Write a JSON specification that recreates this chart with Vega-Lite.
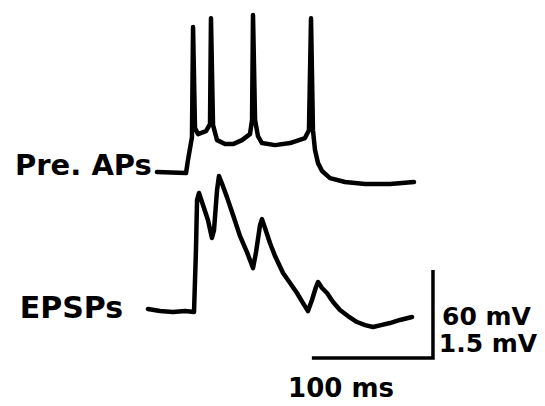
{
  "$schema": "https://vega.github.io/schema/vega-lite/v6.json",
  "width": 545,
  "height": 406,
  "padding": 0,
  "autosize": {"type": "fit", "contains": "padding"},
  "background": "white",
  "config": {"view": {"stroke": null}},
  "datasets": {
    "traces": [
      {"s": "pre", "i": 1, "t": 129.6, "v": 159.6},
      {"s": "pre", "i": 2, "t": 153.6, "v": 158.9},
      {"s": "pre", "i": 3, "t": 155.2, "v": 167.8},
      {"s": "pre", "i": 4, "t": 158.5, "v": 183.5},
      {"s": "pre", "i": 5, "t": 159.4, "v": 258.5},
      {"s": "pre", "i": 6, "t": 161.0, "v": 189.6},
      {"s": "pre", "i": 7, "t": 163.5, "v": 185.5},
      {"s": "pre", "i": 8, "t": 170.1, "v": 187.6},
      {"s": "pre", "i": 9, "t": 173.4, "v": 192.3},
      {"s": "pre", "i": 10, "t": 174.2, "v": 264.6},
      {"s": "pre", "i": 11, "t": 175.9, "v": 191.6},
      {"s": "pre", "i": 12, "t": 179.2, "v": 181.4},
      {"s": "pre", "i": 13, "t": 185.8, "v": 178.7},
      {"s": "pre", "i": 14, "t": 192.4, "v": 178.7},
      {"s": "pre", "i": 15, "t": 199.8, "v": 181.4},
      {"s": "pre", "i": 16, "t": 206.4, "v": 185.5},
      {"s": "pre", "i": 17, "t": 208.1, "v": 195.1},
      {"s": "pre", "i": 18, "t": 208.9, "v": 266.7},
      {"s": "pre", "i": 19, "t": 210.6, "v": 195.1},
      {"s": "pre", "i": 20, "t": 213.0, "v": 184.1},
      {"s": "pre", "i": 21, "t": 216.3, "v": 179.4},
      {"s": "pre", "i": 22, "t": 227.1, "v": 178.0},
      {"s": "pre", "i": 23, "t": 239.5, "v": 179.4},
      {"s": "pre", "i": 24, "t": 251.8, "v": 182.8},
      {"s": "pre", "i": 25, "t": 255.1, "v": 188.2},
      {"s": "pre", "i": 26, "t": 256.8, "v": 264.6},
      {"s": "pre", "i": 27, "t": 258.4, "v": 188.2},
      {"s": "pre", "i": 28, "t": 260.1, "v": 174.6},
      {"s": "pre", "i": 29, "t": 262.6, "v": 165.7},
      {"s": "pre", "i": 30, "t": 265.9, "v": 160.3},
      {"s": "pre", "i": 31, "t": 272.5, "v": 155.5},
      {"s": "pre", "i": 32, "t": 284.9, "v": 152.8},
      {"s": "pre", "i": 33, "t": 301.4, "v": 151.4},
      {"s": "pre", "i": 34, "t": 322.0, "v": 151.4},
      {"s": "pre", "i": 35, "t": 341.8, "v": 152.8},

      {"s": "epsp", "i": 1, "t": 122.2, "v": 66.2},
      {"s": "epsp", "i": 2, "t": 132.1, "v": 64.8},
      {"s": "epsp", "i": 3, "t": 142.8, "v": 64.1},
      {"s": "epsp", "i": 4, "t": 152.8, "v": 64.8},
      {"s": "epsp", "i": 5, "t": 160.2, "v": 64.1},
      {"s": "epsp", "i": 6, "t": 161.8, "v": 106.4},
      {"s": "epsp", "i": 7, "t": 162.7, "v": 140.5},
      {"s": "epsp", "i": 8, "t": 164.3, "v": 145.3},
      {"s": "epsp", "i": 9, "t": 167.6, "v": 137.1},
      {"s": "epsp", "i": 10, "t": 171.7, "v": 126.9},
      {"s": "epsp", "i": 11, "t": 175.0, "v": 114.6},
      {"s": "epsp", "i": 12, "t": 176.7, "v": 120.0},
      {"s": "epsp", "i": 13, "t": 179.2, "v": 147.3},
      {"s": "epsp", "i": 14, "t": 180.8, "v": 156.9},
      {"s": "epsp", "i": 15, "t": 184.1, "v": 150.0},
      {"s": "epsp", "i": 16, "t": 187.4, "v": 142.5},
      {"s": "epsp", "i": 17, "t": 192.4, "v": 130.3},
      {"s": "epsp", "i": 18, "t": 198.2, "v": 115.9},
      {"s": "epsp", "i": 19, "t": 203.9, "v": 105.0},
      {"s": "epsp", "i": 20, "t": 208.9, "v": 94.1},
      {"s": "epsp", "i": 21, "t": 211.4, "v": 105.0},
      {"s": "epsp", "i": 22, "t": 214.7, "v": 123.4},
      {"s": "epsp", "i": 23, "t": 216.3, "v": 127.5},
      {"s": "epsp", "i": 24, "t": 218.8, "v": 121.4},
      {"s": "epsp", "i": 25, "t": 222.9, "v": 111.2},
      {"s": "epsp", "i": 26, "t": 227.1, "v": 102.3},
      {"s": "epsp", "i": 27, "t": 233.7, "v": 90.7},
      {"s": "epsp", "i": 28, "t": 239.5, "v": 83.9},
      {"s": "epsp", "i": 29, "t": 245.2, "v": 77.1},
      {"s": "epsp", "i": 30, "t": 250.2, "v": 70.2},
      {"s": "epsp", "i": 31, "t": 254.3, "v": 64.8},
      {"s": "epsp", "i": 32, "t": 257.6, "v": 72.3},
      {"s": "epsp", "i": 33, "t": 260.9, "v": 81.2},
      {"s": "epsp", "i": 34, "t": 262.6, "v": 84.6},
      {"s": "epsp", "i": 35, "t": 265.9, "v": 80.5},
      {"s": "epsp", "i": 36, "t": 270.0, "v": 77.1},
      {"s": "epsp", "i": 37, "t": 275.0, "v": 70.9},
      {"s": "epsp", "i": 38, "t": 280.7, "v": 65.5},
      {"s": "epsp", "i": 39, "t": 287.3, "v": 61.4},
      {"s": "epsp", "i": 40, "t": 294.8, "v": 57.3},
      {"s": "epsp", "i": 41, "t": 301.4, "v": 55.2},
      {"s": "epsp", "i": 42, "t": 308.0, "v": 53.9},
      {"s": "epsp", "i": 43, "t": 314.6, "v": 55.2},
      {"s": "epsp", "i": 44, "t": 322.0, "v": 56.6},
      {"s": "epsp", "i": 45, "t": 330.3, "v": 58.7},
      {"s": "epsp", "i": 46, "t": 340.2, "v": 60.7}
    ],
    "bars": [
      {"s": "bar", "i": 1, "t": 257.5, "v": 32.7},
      {"s": "bar", "i": 2, "t": 357.5, "v": 32.7},
      {"s": "bar", "i": 3, "t": 357.5, "v": 92.8}
    ],
    "labels": [
      {"label": "Pre. APs", "t": 68.9, "v": 157.5, "size": 29},
      {"label": "EPSPs", "t": 59.0, "v": 60.0, "size": 30},
      {"label": "60 mV", "t": 401.7, "v": 55.0, "size": 25},
      {"label": "1.5 mV", "t": 402.9, "v": 36.8, "size": 25},
      {"label": "100 ms", "t": 281.6, "v": 6.1, "size": 26}
    ]
  },
  "layer": [
    {
      "data": {"name": "traces"},
      "mark": {"type": "line", "color": "black", "strokeWidth": 4.5, "strokeJoin": "round", "strokeCap": "round"},
      "encoding": {
        "x": {"field": "t", "type": "quantitative", "scale": {"domain": [0, 450], "nice": false, "zero": false}, "axis": null},
        "y": {"field": "v", "type": "quantitative", "scale": {"domain": [0, 277], "nice": false, "zero": false}, "axis": null},
        "detail": {"field": "s"},
        "order": {"field": "i", "type": "quantitative"}
      }
    },
    {
      "data": {"name": "bars"},
      "mark": {"type": "line", "color": "black", "strokeWidth": 3.5, "strokeJoin": "miter", "strokeCap": "butt"},
      "encoding": {
        "x": {"field": "t", "type": "quantitative"},
        "y": {"field": "v", "type": "quantitative"},
        "order": {"field": "i", "type": "quantitative"}
      }
    },
    {
      "data": {"name": "labels"},
      "mark": {"type": "text", "font": "DejaVu Sans", "fontWeight": "bold", "align": "center", "baseline": "alphabetic", "color": "black"},
      "encoding": {
        "x": {"field": "t", "type": "quantitative"},
        "y": {"field": "v", "type": "quantitative"},
        "text": {"field": "label"},
        "size": {"field": "size", "type": "quantitative", "scale": null}
      }
    }
  ]
}
